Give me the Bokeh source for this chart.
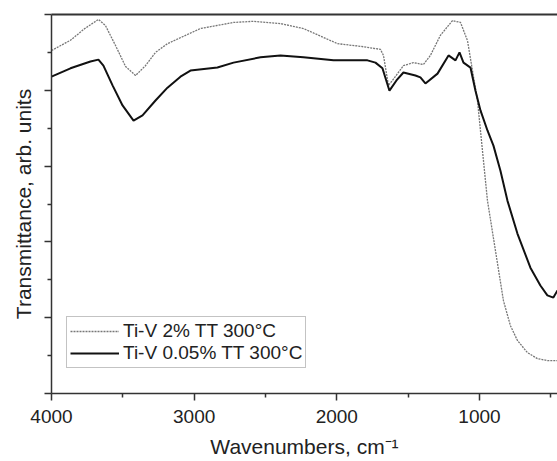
from bokeh.plotting import figure
from bokeh.models import Range1d, FixedTicker, LinearAxis, Legend, LegendItem, Title
from bokeh.embed import file_html
from bokeh.resources import INLINE

# Ti-V 2% TT 300°C (dotted)
wn_a = [4000, 3867, 3770, 3671, 3622, 3551, 3481, 3411, 3341, 3271, 3187, 3061, 2956,
        2724, 2584, 2395, 2234, 1995, 1834, 1694, 1673, 1638, 1610, 1533, 1463, 1393,
        1344, 1274, 1189, 1133, 1084, 1049, 1014, 979, 944, 888, 832, 783, 734, 664,
        594, 524, 453]
tr_a = [9.05, 9.32, 9.62, 9.87, 9.71, 9.18, 8.63, 8.39, 8.65, 9.00, 9.23, 9.45, 9.63,
        9.79, 9.82, 9.76, 9.63, 9.23, 9.16, 9.08, 8.92, 8.13, 8.26, 8.65, 8.73, 8.68,
        8.92, 9.45, 9.84, 9.79, 9.31, 8.52, 7.73, 6.41, 5.09, 3.77, 2.45, 1.79, 1.40,
        1.08, 0.92, 0.87, 0.87]

# Ti-V 0.05% TT 300°C (solid)
wn_b = [4000, 3867, 3727, 3671, 3636, 3572, 3502, 3425, 3362, 3271, 3187, 3096, 3026,
        2837, 2724, 2535, 2395, 2234, 2023, 1785, 1729, 1680, 1631, 1582, 1533, 1449,
        1414, 1379, 1294, 1217, 1168, 1140, 1112, 1063, 1028, 993, 944, 902, 853, 804,
        734, 643, 573, 524, 482, 453]
tr_b = [8.36, 8.58, 8.76, 8.81, 8.65, 8.13, 7.60, 7.20, 7.34, 7.73, 8.07, 8.36, 8.52,
        8.60, 8.73, 8.87, 8.92, 8.87, 8.79, 8.79, 8.73, 8.58, 7.99, 8.26, 8.47, 8.39,
        8.34, 8.18, 8.44, 8.92, 8.79, 9.00, 8.73, 8.60, 7.99, 7.47, 6.94, 6.54, 5.88,
        5.09, 4.22, 3.32, 2.85, 2.59, 2.53, 2.72]

x_major = [4000, 3000, 2000, 1000]
x_minor = [3500, 2500, 1500, 500]
y_major = [0, 2, 4, 6, 8, 10]
y_minor = [1, 3, 5, 7, 9]

label_a = "Ti-V 2% TT 300°C"
label_b = "Ti-V 0.05% TT 300°C"

FONT = "Liberation Sans"
AX = "#333333"
TXT = "#222222"

p = figure(width=557, height=461, output_backend="svg", toolbar_location=None,
           x_range=Range1d(4000, 453), y_range=Range1d(0, 10),
           min_border_left=51, min_border_right=0, min_border_top=14, min_border_bottom=68)
p.outline_line_color = None
p.grid.visible = False
p.background_fill_color = "white"
p.border_fill_color = "white"

ra = p.line(wn_a, tr_a, line_color="#777777", line_width=1.3, line_dash="2 1")
rb = p.line(wn_b, tr_b, line_color="#111111", line_width=2)

xa = p.xaxis[0]
xa.ticker = FixedTicker(ticks=x_major, minor_ticks=x_minor)
xa.axis_label = "Wavenumbers, cm⁻¹"
xa.axis_label_text_font = FONT
xa.axis_label_text_font_style = "normal"
xa.axis_label_text_font_size = "21px"
xa.axis_label_text_color = TXT
xa.axis_label_standoff = 9
xa.major_label_text_font = FONT
xa.major_label_text_font_size = "19px"
xa.major_label_text_color = TXT
xa.major_label_standoff = 9
xa.major_tick_out = 7
xa.major_tick_in = 0
xa.minor_tick_out = 4
xa.minor_tick_in = 0
xa.axis_line_width = 1.5
xa.axis_line_color = AX
xa.major_tick_line_color = AX
xa.minor_tick_line_color = AX
xa.major_tick_line_width = 1.5
xa.minor_tick_line_width = 1.5

ya = p.yaxis[0]
ya.ticker = FixedTicker(ticks=y_major, minor_ticks=y_minor)
ya.major_label_overrides = {v: "" for v in y_major}
ya.major_label_standoff = 0
ya.major_tick_out = 7
ya.major_tick_in = 0
ya.minor_tick_out = 4
ya.minor_tick_in = 0
ya.axis_line_width = 1.5
ya.axis_line_color = AX
ya.major_tick_line_color = AX
ya.minor_tick_line_color = AX
ya.major_tick_line_width = 1.5
ya.minor_tick_line_width = 1.5

ytitle = Title(text="Transmittance, arb. units", align="center", offset=26,
               text_font=FONT, text_font_style="normal", text_font_size="21px",
               text_color=TXT, standoff=19)
p.add_layout(ytitle, "left")

top = LinearAxis(ticker=FixedTicker(ticks=[], minor_ticks=[]), major_tick_out=0, major_tick_in=0,
                 minor_tick_out=0, minor_tick_in=0,
                 major_label_standoff=0, axis_line_width=2, axis_line_color=AX)
p.add_layout(top, "above")

legend = Legend(items=[LegendItem(label=label_a, renderers=[ra]),
                       LegendItem(label=label_b, renderers=[rb])],
                location=(15, 25), orientation="vertical",
                label_text_font=FONT, label_text_font_size="19px",
                label_text_color=TXT,
                glyph_width=49, glyph_height=18, label_height=18, label_standoff=4,
                padding=3, spacing=0, margin=0,
                border_line_color="#888888", border_line_width=1.5,
                background_fill_color="white", background_fill_alpha=1)
p.add_layout(legend)

open("out.html", "w").write(file_html(p, INLINE))
